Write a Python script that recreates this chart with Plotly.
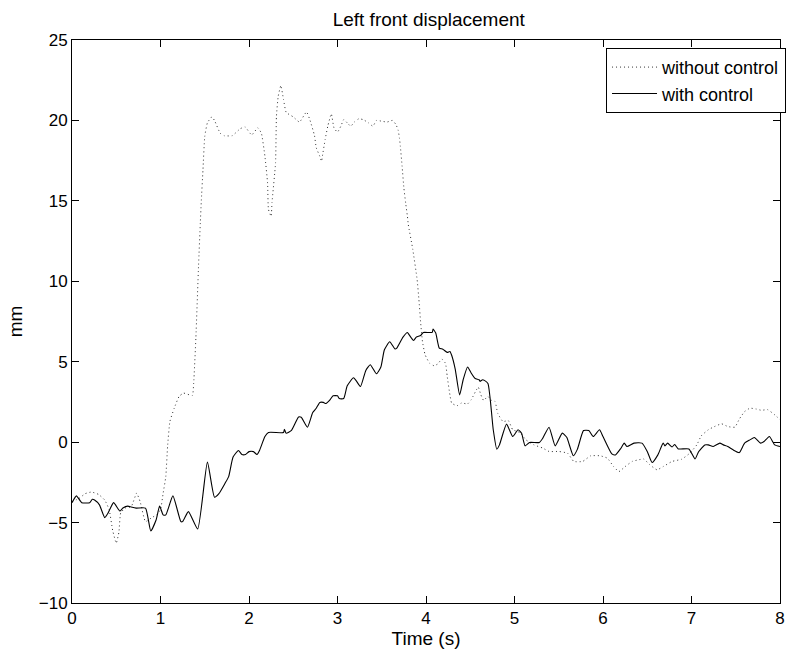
import plotly.graph_objects as go

# "with control" (solid)
t_with = [0, 0.05, 0.11, 0.2, 0.23, 0.255, 0.31, 0.37, 0.41, 0.47, 0.54, 0.575, 0.63, 0.66, 0.725,
          0.83, 0.89, 0.95, 0.99, 1.03, 1.06, 1.14, 1.23, 1.25, 1.315, 1.42, 1.53, 1.61, 1.66, 1.73,
          1.77, 1.82, 1.88, 1.92, 1.96, 2.0, 2.05, 2.09, 2.12, 2.18, 2.22, 2.39, 2.40, 2.42, 2.48,
          2.56, 2.59, 2.66, 2.72, 2.76, 2.80, 2.84, 2.87, 2.91, 2.95, 3.0, 3.02, 3.07, 3.11, 3.18,
          3.21, 3.26, 3.32, 3.37, 3.44, 3.49, 3.53, 3.59, 3.65, 3.67, 3.74, 3.79, 3.81, 3.86, 3.89,
          3.94, 3.97, 4.07, 4.08, 4.11, 4.15, 4.19, 4.24, 4.27, 4.29, 4.33, 4.38, 4.42, 4.47, 4.51,
          4.555, 4.6, 4.61, 4.64, 4.66, 4.70, 4.76, 4.80, 4.83, 4.91, 4.98, 5.04, 5.08, 5.12, 5.17,
          5.28, 5.32, 5.39, 5.46, 5.54, 5.59, 5.665, 5.71, 5.78, 5.84, 5.89, 5.96, 6.0, 6.10, 6.14,
          6.20, 6.24, 6.27, 6.35, 6.44, 6.50, 6.555, 6.62, 6.68, 6.70, 6.73, 6.78, 6.81, 6.85, 6.97,
          7.04, 7.08, 7.15, 7.19, 7.245, 7.32, 7.36, 7.41, 7.47, 7.54, 7.60, 7.66, 7.71, 7.78, 7.82,
          7.88, 7.94, 8.0]
y_with = [-3.76, -3.34, -3.76, -3.76, -3.55, -3.6, -3.9, -4.69, -4.38, -3.76, -4.28, -4.1, -3.98, -4.02, -4.1,
          -4.1, -5.52, -4.84, -3.98, -4.52, -4.52, -3.34, -4.94, -4.94, -4.32, -5.4, -1.24, -3.42, -3.2, -2.55,
          -2.14, -0.93, -0.52, -0.77, -0.77, -0.59, -0.59, -0.77, -0.5, 0.35, 0.6, 0.6, 0.8, 0.55, 0.73,
          1.56, 1.55, 0.93, 1.84, 2.11, 2.47, 2.47, 2.4, 2.59, 2.88, 2.88, 2.71, 2.71, 3.5, 4.0,
          3.83, 3.46, 4.46, 4.81, 4.25, 4.67, 5.74, 6.24, 5.79, 5.85, 6.53, 6.82, 6.67, 6.32, 6.53,
          6.63, 6.82, 6.82, 7.03, 6.78, 5.85, 5.78, 5.58, 5.64, 5.4, 4.54, 2.94, 3.88, 4.67, 4.3,
          3.96, 3.88, 3.78, 3.88, 3.84, 3.65, 0.77, -0.44, -0.17, 1.12, 0.35, 0.77, 0.55, -0.23, -0.02,
          -0.02, 0.25, 0.93, -0.23, 0.56, 0.3, -0.85, -0.45, 0.72, 0.72, 0.35, 0.77, 0.35, -0.73, -0.8,
          -0.4, -0.06, -0.27, -0.06, -0.06, -0.58, -1.27, -0.79, -0.06, -0.23, -0.06, -0.3, -0.15, -0.42, -0.42,
          -1.04, -0.6, -0.17, -0.17, -0.27, -0.06, -0.17, -0.27, -0.48, -0.65, -0.06, 0.14, 0.29, -0.06, 0.04,
          0.35, -0.17, -0.27]

# "without control" (dotted)
t_without = [0, 0.08, 0.15, 0.22, 0.3, 0.37, 0.42, 0.46, 0.50, 0.53, 0.55, 0.6, 0.67, 0.73, 0.77,
             0.83, 0.9, 0.96, 1.0, 1.03, 1.06, 1.08, 1.106, 1.155, 1.21, 1.26, 1.36, 1.375, 1.40, 1.43,
             1.45, 1.46, 1.48, 1.50, 1.53, 1.58, 1.61, 1.675, 1.72, 1.81, 1.90, 1.955, 2.03, 2.10, 2.14,
             2.18, 2.21, 2.22, 2.25, 2.26, 2.30, 2.31, 2.33, 2.36, 2.39, 2.42, 2.50, 2.57, 2.65, 2.69,
             2.74, 2.76, 2.80, 2.82, 2.83, 2.86, 2.89, 2.93, 2.96, 3.0, 3.04, 3.07, 3.11, 3.15, 3.19,
             3.24, 3.29, 3.35, 3.40, 3.44, 3.50, 3.56, 3.62, 3.66, 3.685, 3.70, 3.71, 3.73, 3.75, 3.77,
             3.79, 3.80, 3.85, 3.90, 3.92, 3.94, 3.96, 3.99, 4.04, 4.09, 4.13, 4.18, 4.22, 4.24, 4.27,
             4.29, 4.35, 4.40, 4.47, 4.51, 4.59, 4.62, 4.65, 4.70, 4.74, 4.78, 4.81, 4.87, 4.93, 4.98,
             5.06, 5.13, 5.22, 5.32, 5.39, 5.50, 5.60, 5.67, 5.77, 5.86, 5.97, 6.05, 6.12, 6.18, 6.25,
             6.33, 6.40, 6.46, 6.53, 6.61, 6.68, 6.78, 6.89, 6.98, 7.06, 7.11, 7.19, 7.26, 7.34, 7.41,
             7.49, 7.54, 7.60, 7.66, 7.73, 7.79, 7.86, 7.94, 8.0]
y_without = [-3.7, -3.5, -3.2, -3.1, -3.25, -3.6, -4.2, -5.5, -6.28, -5.6, -4.4, -4.1, -4.0, -3.17, -3.7,
             -4.94, -4.7, -4.5, -4.2, -3.17, -2.14, -0.27, 1.28, 2.11, 2.84, 3.05, 2.9, 3.67, 6.5, 11.0,
             13.63, 14.87, 16.94, 19.0, 19.85, 20.22, 20.0, 19.2, 19.05, 19.05, 19.48, 19.6, 19.1, 19.54, 19.2,
             17.77, 16.1, 14.46, 14.04, 14.9, 17.36, 20.26, 21.5, 22.17, 21.3, 20.5, 20.22, 19.9, 20.53, 20.0,
             19.06, 18.3, 17.77, 17.46, 17.8, 18.8, 19.64, 20.41, 19.54, 19.27, 19.67, 20.05, 19.85, 19.64, 19.9,
             20.1, 20.05, 19.85, 19.64, 20.0, 19.95, 19.9, 20.0, 19.75, 19.4, 18.9, 18.4, 17.15, 15.8, 14.87,
             14.04, 13.52, 12.0, 10.1, 8.86, 7.4, 6.26, 5.43, 4.91, 4.75, 4.85, 5.16, 4.9, 4.08, 2.94,
             2.43, 2.26, 2.43, 2.38, 2.63, 3.42, 2.94, 2.6, 2.84, 2.6, 2.53, 1.8, 1.28, 1.34, 0.77,
             0.6, 0.14, -0.17, -0.37, -0.58, -0.58, -0.69, -1.2, -1.2, -0.85, -0.85, -1.0, -1.52, -1.83, -1.52,
             -1.2, -1.1, -1.05, -1.41, -1.72, -1.52, -1.2, -1.06, -0.69, -0.17, 0.39, 0.77, 0.97, 1.14, 0.97,
             0.93, 1.43, 1.9, 2.11, 2.06, 1.98, 2.02, 1.7, 1.4]

x_ticks = [0, 1, 2, 3, 4, 5, 6, 7, 8]
y_ticks = [-10, -5, 0, 5, 10, 15, 20, 25]

FONT = "Liberation Sans, Arial, Helvetica, sans-serif"

fig = go.Figure()
fig.add_trace(go.Scatter(x=t_without, y=y_without, mode="lines", name="without control",
                         line=dict(color="#333333", width=1, dash="1px,3px",
                                   shape="spline", smoothing=0.4)))
fig.add_trace(go.Scatter(x=t_with, y=y_with, mode="lines", name="with control",
                         line=dict(color="black", width=1.1, shape="spline", smoothing=0.5)))

axis_common = dict(showline=True, linecolor="black", linewidth=1, mirror="ticks",
                   ticks="inside", ticklen=7, tickcolor="black", tickwidth=1,
                   showgrid=False, zeroline=False,
                   tickfont=dict(family=FONT, size=17, color="black"))

fig.update_layout(
    width=794, height=658, autosize=False,
    margin=dict(l=72, r=8, t=40, b=55),
    paper_bgcolor="white", plot_bgcolor="white",
    font=dict(family=FONT, color="black"),
    title=dict(text="Left front displacement", x=0.54, xanchor="center",
               y=1 - 19 / 658, yanchor="middle", yref="container",
               font=dict(family=FONT, size=19, color="black")),
    xaxis=dict(range=[0, 8], tickvals=x_ticks, ticktext=[str(v) for v in x_ticks],
               title=dict(text="Time (s)", font=dict(family=FONT, size=19, color="black"), standoff=2),
               **axis_common),
    yaxis=dict(range=[-10, 25], tickvals=y_ticks,
               ticktext=[("\u2212" + str(-v)) if v < 0 else str(v) for v in y_ticks],
               title=dict(text="mm", font=dict(family=FONT, size=19, color="black"), standoff=11),
               **axis_common),
    legend=dict(x=1.0085, xanchor="right", y=0.986, yanchor="top",
                bordercolor="black", borderwidth=1, bgcolor="white",
                font=dict(family=FONT, size=18, color="black"),
                itemwidth=45, tracegroupgap=0),
    showlegend=True,
)

fig.write_html("out.html")
